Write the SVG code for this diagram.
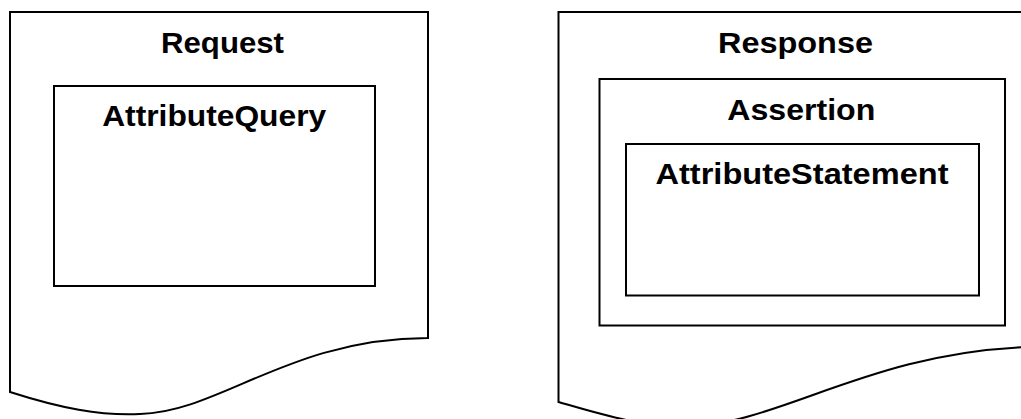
<svg xmlns="http://www.w3.org/2000/svg" width="1021" height="419" viewBox="0 0 1021 419">
<style>
.shape{fill:#fff;stroke:#000;stroke-width:2;stroke-linejoin:miter}
.lbl{font-family:"Liberation Sans",Arial,sans-serif;font-weight:bold;font-size:29.5px;fill:#000;text-anchor:middle}
</style>
<rect width="1021" height="419" fill="#fff"/>
<g id="request">
<path class="shape" d="M10,392 V12 H428 V338 C290,338 220,412 140,414 C100,416 60,408 10,392 Z"/>
<text class="lbl" x="222.5" y="53" textLength="123" lengthAdjust="spacingAndGlyphs">Request</text>
</g>
<g id="attributequery">
<rect class="shape" x="54" y="86" width="321" height="200"/>
<text class="lbl" x="214.2" y="126" textLength="224" lengthAdjust="spacingAndGlyphs">AttributeQuery</text>
</g>
<g id="response">
<path class="shape" d="M558.5,402 V12 H1030 V347 C870,352 780,424 690,426 C640,427 600,414 558.5,402 Z"/>
<text class="lbl" x="795.5" y="53" textLength="155" lengthAdjust="spacingAndGlyphs">Response</text>
</g>
<g id="assertion">
<rect class="shape" x="599.5" y="79" width="405.5" height="246.5"/>
<text class="lbl" x="801.3" y="120" textLength="148" lengthAdjust="spacingAndGlyphs">Assertion</text>
</g>
<g id="attributestatement">
<rect class="shape" x="626" y="144" width="353" height="151.5"/>
<text class="lbl" x="802" y="184" textLength="293" lengthAdjust="spacingAndGlyphs">AttributeStatement</text>
</g>
<g id="connectors"></g>
</svg>
